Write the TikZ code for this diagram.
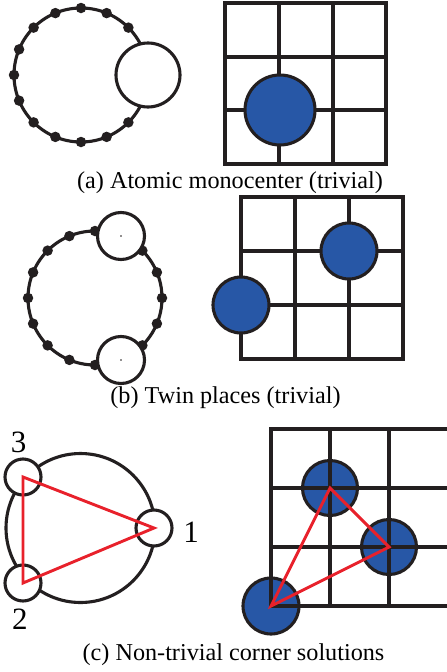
\documentclass[tikz,border=0pt]{standalone}
\usepackage{fontspec}
\setmainfont{Liberation Serif}
\definecolor{diskblue}{HTML}{2757A6}
\definecolor{trired}{HTML}{E8212B}
\definecolor{ink}{HTML}{231F20}
\begin{document}
\begin{tikzpicture}[x=1pt,y=-1pt,
  ring/.style={circle, draw=ink, line width=3.1pt, inner sep=0pt, outer sep=0pt},
  bead/.style={circle, fill=ink, inner sep=0pt, minimum size=10.5pt},
  speck/.style={circle, fill=ink, inner sep=0pt, minimum size=1.8pt},
  hole/.style={circle, draw=ink, fill=white, line width=3.1pt, inner sep=0pt, outer sep=0pt},
  disk/.style={circle, draw=ink, fill=diskblue, line width=3.1pt, inner sep=0pt, outer sep=0pt},
  gridline/.style={draw=ink, line width=3.2pt},
  edge/.style={draw=trired, line width=2.9pt},
  caption/.style={font=\fontsize{24.2}{28}\selectfont, anchor=base, inner sep=0pt},
  idx/.style={font=\fontsize{31}{34}\selectfont, anchor=base, inner sep=0pt}]
\useasboundingbox (0,0) rectangle (447,672);

% ---------- (a) left ----------
\node[ring, minimum size=134pt] (ringA) at (81,75) {};
\foreach \a [count=\k] in {45,67.5,90,112.5,135,157.5,180,202.5,225,247.5,270,292.5,315}
  \path (ringA.center) ++(\a:67) node[bead] (beadA\k) {};
\node[hole, minimum size=64pt] (holeA) at (148,75) {};

% ---------- (a) right ----------
\draw[gridline] (225,3) rectangle (386,164);
\foreach \x in {279,333} \draw[gridline] (\x,3) -- (\x,164);
\foreach \y in {57,110} \draw[gridline] (225,\y) -- (386,\y);
\node[disk, minimum size=70pt] (diskA) at (280,110) {};
\node[caption] (capA) at (230,188) {(a) Atomic monocenter (trivial)};

% ---------- (b) left ----------
\node[ring, minimum size=134pt] (ringB) at (95,298) {};
\foreach \a [count=\k] in {0,22.5,45,90,112.5,135,157.5,180,202.5,225,247.5,270,315,337.5}
  \path (ringB.center) ++(\a:67) node[bead] (beadB\k) {};
\node[hole, minimum size=47pt] (holeB1) at (121,236) {};
\node[hole, minimum size=47pt] (holeB2) at (121,360) {};
\node[speck] (speckB1) at (holeB1.center) {};
\node[speck] (speckB2) at (holeB2.center) {};

% ---------- (b) right ----------
\draw[gridline] (241,197) rectangle (403,359);
\foreach \x in {295,349} \draw[gridline] (\x,197) -- (\x,359);
\foreach \y in {251,305} \draw[gridline] (241,\y) -- (403,\y);
\node[disk, minimum size=56pt] (diskB1) at (241,305) {};
\node[disk, minimum size=56pt] (diskB2) at (349,251) {};
\node[caption] (capB) at (225.5,403) {(b) Twin places (trivial)};

% ---------- (c) left ----------
\node[ring, minimum size=149pt] (ringC) at (80.5,528) {};
\node[hole, minimum size=36pt] (holeC1) at (154,528) {};
\node[hole, minimum size=36pt] (holeC3) at (23,477) {};
\node[hole, minimum size=36pt] (holeC2) at (23,583) {};
\draw[edge] (holeC1.center) -- (holeC3.center) -- (holeC2.center) -- cycle;
\node[idx] (lab1) at (191,542) {1};
\node[idx] (lab3) at (18.5,452) {3};
\node[idx] (lab2) at (20,629) {2};

% ---------- (c) right ----------
\node[disk, minimum size=55pt] (diskC1) at (330,488) {};
\node[disk, minimum size=55pt] (diskC2) at (389,547) {};
\node[disk, minimum size=56pt] (diskC3) at (271,606) {};
\draw[gridline] (448,429) -- (271,429) -- (271,606) -- (448,606);
\foreach \x in {330,389} \draw[gridline] (\x,429) -- (\x,606);
\foreach \y in {488,547} \draw[gridline] (271,\y) -- (448,\y);
\draw[edge] (diskC1.center) -- (diskC2.center) -- (diskC3.center) -- cycle;
\node[caption] (capC) at (233.5,660) {(c) Non-trivial corner solutions};
\end{tikzpicture}
\end{document}
